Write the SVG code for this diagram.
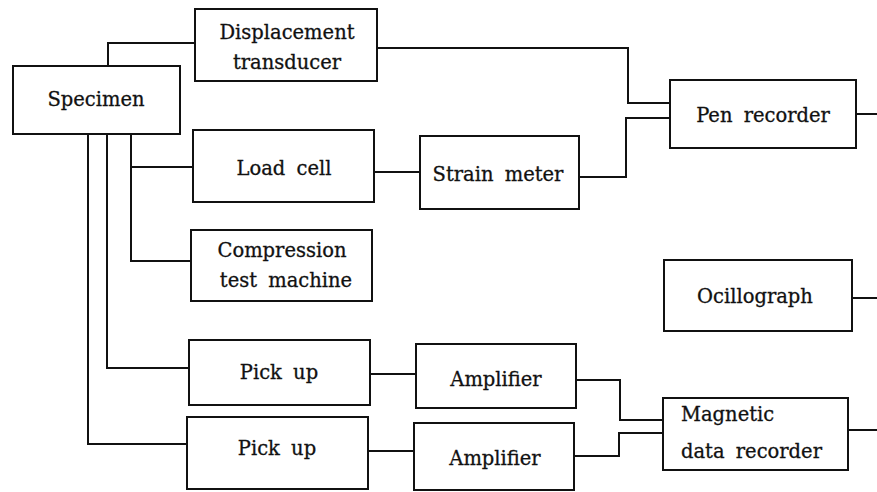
<svg xmlns="http://www.w3.org/2000/svg" width="877" height="492" viewBox="0 0 877 492">
<style>
.box{fill:#fff;stroke:#111;stroke-width:2}
.ln{fill:none;stroke:#111;stroke-width:2}
text{font-family:"DejaVu Serif","Liberation Serif",serif;font-size:19.5px;fill:#111;text-anchor:middle;dominant-baseline:central;word-spacing:5px;stroke:#111;stroke-width:0.3}
</style>
<rect width="877" height="492" fill="#fff"/>
<g id="connectors">
<path class="ln" d="M108,66 V43 H195"/>
<path class="ln" d="M377,48 H628 V103 H670"/>
<path class="ln" d="M579,177 H626 V118 H670"/>
<path class="ln" d="M374,172 H420"/>
<path class="ln" d="M131,134 V261 H191 M131,167 H193"/>
<path class="ln" d="M107,134 V368 H189"/>
<path class="ln" d="M88,134 V444 H187"/>
<path class="ln" d="M370,374 H416"/>
<path class="ln" d="M368,451 H414"/>
<path class="ln" d="M576,380 H620 V420 H663"/>
<path class="ln" d="M574,456 H619 V433 H663"/>
<path class="ln" d="M856,114 H877"/>
<path class="ln" d="M852,298 H877"/>
<path class="ln" d="M848,430 H877"/>
</g>
<g id="specimen"><rect class="box" x="13" y="66" width="167" height="68"/><text x="96" y="99">Specimen</text></g>
<g id="displacement"><rect class="box" x="195" y="9" width="182" height="72"/><text x="287" y="32">Displacement</text><text x="287" y="62">transducer</text></g>
<g id="loadcell"><rect class="box" x="193" y="130" width="181" height="72"/><text x="284" y="168">Load cell</text></g>
<g id="strainmeter"><rect class="box" x="420" y="136" width="159" height="73"/><text x="498" y="174">Strain meter</text></g>
<g id="penrecorder"><rect class="box" x="670" y="80" width="186" height="68"/><text x="763" y="115">Pen recorder</text></g>
<g id="compression"><rect class="box" x="191" y="230" width="181" height="71"/><text x="282" y="250">Compression</text><text x="286" y="280">test machine</text></g>
<g id="ocillograph"><rect class="box" x="664" y="260" width="188" height="71"/><text x="755" y="296">Ocillograph</text></g>
<g id="pickup1"><rect class="box" x="189" y="340" width="181" height="65"/><text x="279" y="372">Pick up</text></g>
<g id="pickup2"><rect class="box" x="187" y="417" width="181" height="72"/><text x="277" y="448">Pick up</text></g>
<g id="amplifier1"><rect class="box" x="416" y="344" width="160" height="64"/><text x="496" y="379">Amplifier</text></g>
<g id="amplifier2"><rect class="box" x="414" y="423" width="160" height="67"/><text x="495" y="458">Amplifier</text></g>
<g id="magnetic"><rect class="box" x="663" y="398" width="185" height="72"/><text x="681" y="414" style="text-anchor:start">Magnetic</text><text x="681" y="451" style="text-anchor:start">data recorder</text></g>
</svg>
